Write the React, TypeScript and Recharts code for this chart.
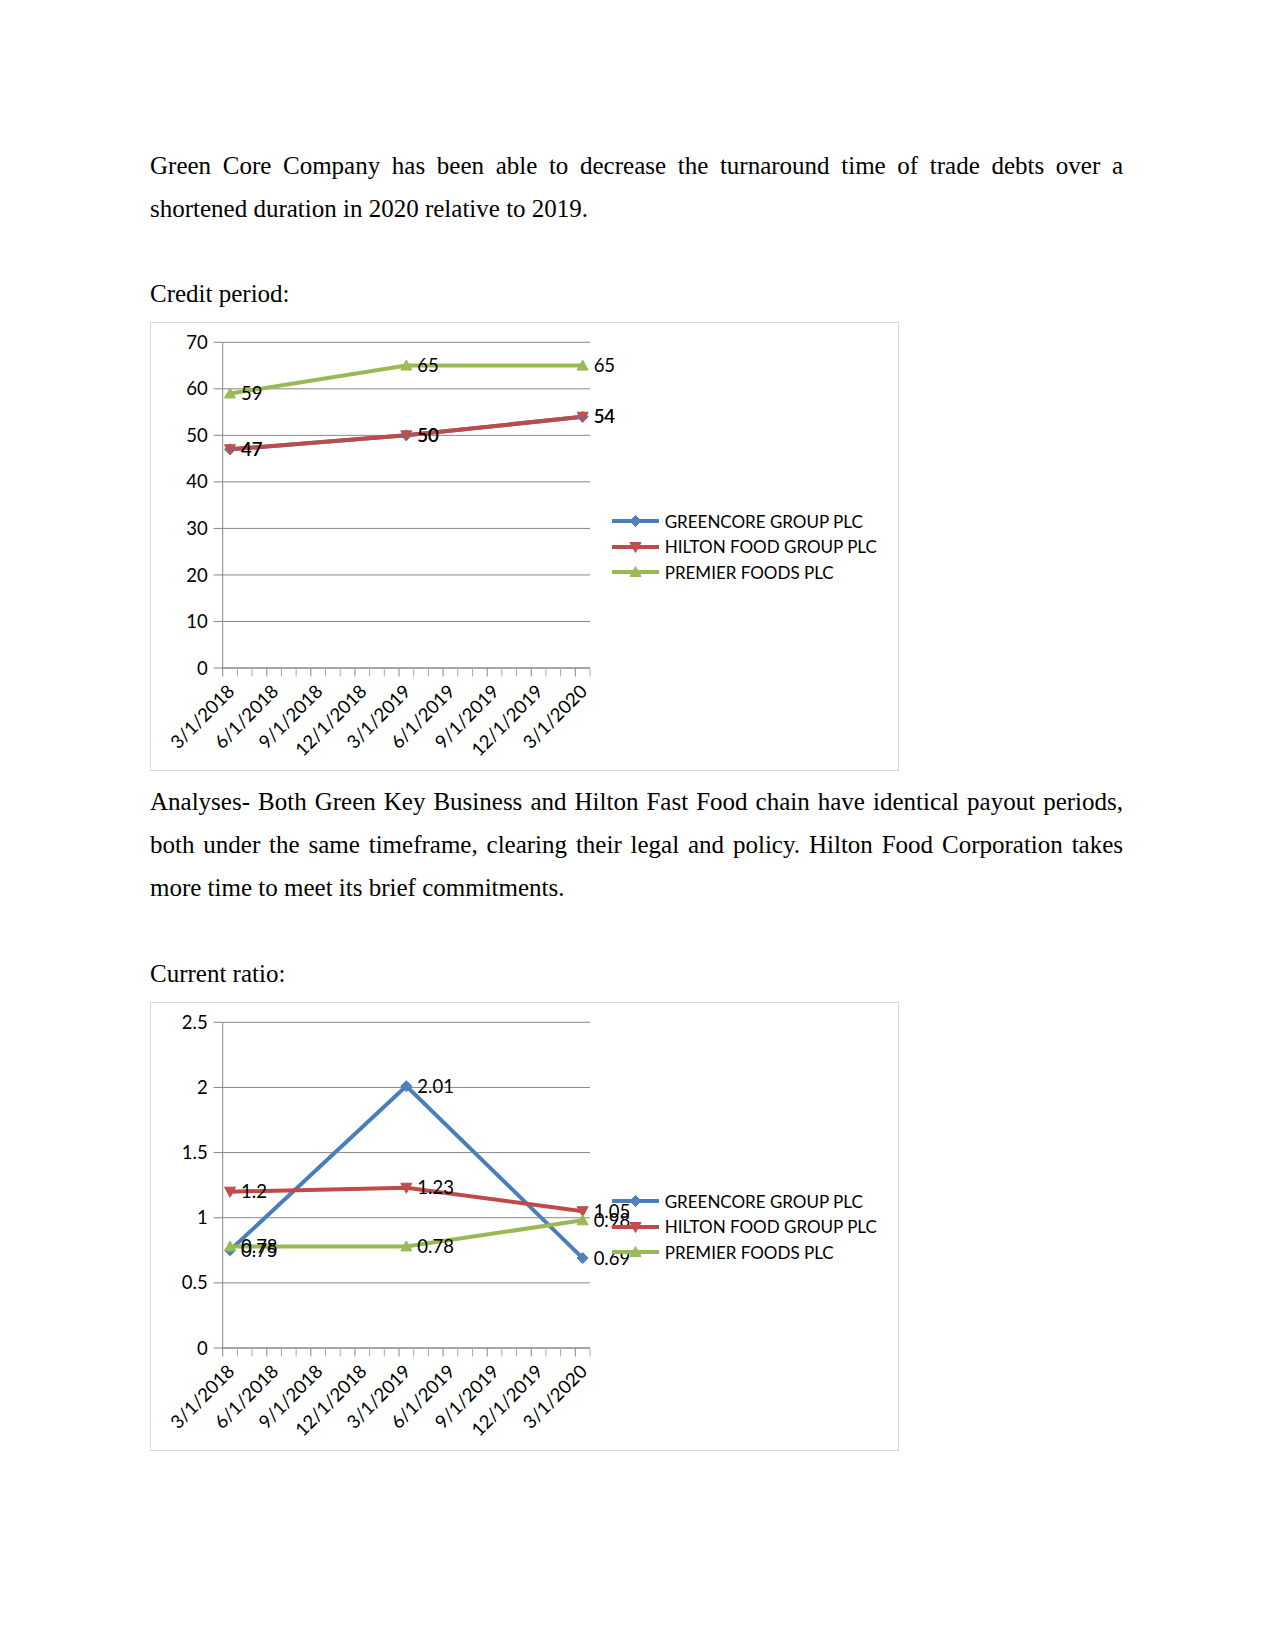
import React from 'react';
import { LineChart, Line, XAxis, YAxis, CartesianGrid, Legend, LabelList } from 'recharts';

// dates of the three observations and the date labels on the x axis
const pointDates = ['3/1/2018', '3/1/2019', '3/1/2020'];
const axisLabels = [
  '3/1/2018', '6/1/2018', '9/1/2018', '12/1/2018', '3/1/2019',
  '6/1/2019', '9/1/2019', '12/1/2019', '3/1/2020',
];
const seriesNames = ['GREENCORE GROUP PLC', 'HILTON FOOD GROUP PLC', 'PREMIER FOODS PLC'];

// Credit period (days)
const creditGreencore = [47, 50, 54];
const creditHilton = [47, 50, 54];
const creditPremier = [59, 65, 65];
const creditTicks = [0, 10, 20, 30, 40, 50, 60, 70];

// Current ratio
const ratioGreencore = [0.75, 2.01, 0.69];
const ratioHilton = [1.2, 1.23, 1.05];
const ratioPremier = [0.78, 0.78, 0.98];
const ratioTicks = [0, 0.5, 1, 1.5, 2, 2.5];

const FONT = 'Lato, "Noto Sans", sans-serif';
const FS = 17; // legend
const NUM_FS = 18.5; // numbers and dates
const GRID = '#878787';

const SERIES = [
  { key: 'g', stroke: '#4A7EBB', fill: '#4F81BD', shape: 'diamond' },
  { key: 'h', stroke: '#BE4B48', fill: '#C0504D', shape: 'down' },
  { key: 'p', stroke: '#98B954', fill: '#9BBB59', shape: 'up' },
];

// month index counted from the first axis label
const monthOf = (d: string) => {
  const [m, , y] = d.split('/').map(Number);
  const [m0, , y0] = axisLabels[0].split('/').map(Number);
  return (y - y0) * 12 + (m - m0);
};

const labelMonths = axisLabels.map(monthOf);
const lastMonth = labelMonths[labelMonths.length - 1];
const xDomain = [-0.5, lastMonth + 0.5];
const boundaryTicks = Array.from({ length: lastMonth + 2 }, (_, i) => i - 0.5);
const xTicks = [...boundaryTicks, ...labelMonths];

const buildRows = (g: number[], h: number[], p: number[]) =>
  pointDates.map((d, i) => ({ m: monthOf(d), g: g[i], h: h[i], p: p[i] }));

const creditRows = buildRows(creditGreencore, creditHilton, creditPremier);
const ratioRows = buildRows(ratioGreencore, ratioHilton, ratioPremier);

const markerPath = (shape: string, cx: number, cy: number) => {
  if (shape === 'diamond') return `M${cx},${cy - 5.5}L${cx + 5.5},${cy}L${cx},${cy + 5.5}L${cx - 5.5},${cy}Z`;
  if (shape === 'down') return `M${cx - 5.5},${cy - 4.5}L${cx + 5.5},${cy - 4.5}L${cx},${cy + 5.5}Z`;
  return `M${cx - 5.5},${cy + 4.5}L${cx + 5.5},${cy + 4.5}L${cx},${cy - 5.5}Z`;
};

const DateTick = (props: any) => {
  const { x, y, payload } = props;
  const v = payload.value;
  if (Number.isInteger(v)) {
    const label = axisLabels[labelMonths.indexOf(v)];
    const ax = x + 1;
    const ay = y + 20;
    return (
      <text
        x={ax}
        y={ay}
        dy="0.35em"
        textAnchor="end"
        transform={`rotate(-45 ${ax} ${ay})`}
        fontSize={NUM_FS}
        fontFamily={FONT}
        fill="#000"
      >
        {label}
      </text>
    );
  }
  const major = (v + 0.5) % 3 === 0;
  return <line x1={x} x2={x} y1={y} y2={y + 8.5} stroke={major ? '#868686' : '#a8a8a8'} strokeWidth={1} />;
};

const renderLabel = (props: any) => {
  const { x, y, value } = props;
  if (value == null) return null;
  return (
    <text x={x + 11} y={y} dy="0.35em" fontSize={NUM_FS} fontFamily={FONT} fill="#000">
      {value}
    </text>
  );
};

const makeDot = (shape: string, fill: string, stroke: string) => (props: any) => {
  const { cx, cy, index } = props;
  if (cx == null || cy == null) return <g key={`d-${index}`} />;
  return <path key={`d-${index}`} d={markerPath(shape, cx, cy)} fill={fill} stroke={stroke} strokeWidth={1} />;
};

const renderLegend = () => (
  <div style={{ paddingLeft: 21.7, fontFamily: FONT, fontSize: FS, color: '#000' }}>
    {SERIES.map((s, i) => (
      <div key={s.key} style={{ display: 'flex', alignItems: 'center', height: 25.5, whiteSpace: 'nowrap' }}>
        <svg width={47} height={14} style={{ display: 'block' }}>
          <line x1={0} x2={47} y1={7} y2={7} stroke={s.stroke} strokeWidth={4} />
          <path d={markerPath(s.shape, 23.5, 7)} fill={s.fill} stroke={s.stroke} />
        </svg>
        <span style={{ marginLeft: 6 }}>{seriesNames[i]}</span>
      </div>
    ))}
  </div>
);

function TrendChart({ rows, ticks }: { rows: any[]; ticks: number[] }) {
  return (
    <LineChart
      width={747}
      height={447}
      data={rows}
      margin={{ top: 19.3, right: 20, bottom: 0, left: 0 }}
      style={{ fontFamily: FONT }}
    >
      <CartesianGrid vertical={false} stroke={GRID} />
      <XAxis
        dataKey="m"
        type="number"
        domain={xDomain}
        ticks={xTicks}
        interval={0}
        tick={<DateTick />}
        tickLine={false}
        tickSize={0}
        tickMargin={0}
        height={102}
        axisLine={{ stroke: '#868686' }}
      />
      <YAxis
        type="number"
        domain={[ticks[0], ticks[ticks.length - 1]]}
        ticks={ticks}
        interval={0}
        width={71.7}
        tickSize={9}
        tickMargin={6}
        axisLine={{ stroke: '#868686' }}
        tickLine={{ stroke: '#868686' }}
        tick={{ fontSize: NUM_FS, fill: '#000', fontFamily: FONT }}
      />
      <Legend layout="vertical" align="right" verticalAlign="middle" wrapperStyle={{ width: 288 }} content={renderLegend} />
      {SERIES.map((s, i) => (
        <Line
          key={s.key}
          dataKey={s.key}
          name={seriesNames[i]}
          type="linear"
          stroke={s.stroke}
          strokeWidth={4}
          dot={makeDot(s.shape, s.fill, s.stroke)}
          activeDot={false}
          isAnimationActive={false}
        >
          <LabelList dataKey={s.key} content={renderLabel} />
        </Line>
      ))}
    </LineChart>
  );
}

const textLine = (top: number, text: string, justify: boolean) => (
  <div
    style={{
      position: 'absolute',
      left: 150,
      top,
      width: 973,
      lineHeight: '43px',
      textAlign: justify ? 'justify' : 'left',
      textAlignLast: justify ? 'justify' : 'left',
      whiteSpace: 'nowrap',
    }}
  >
    {text}
  </div>
);

const chartBox = (top: number, rows: any[], ticks: number[]) => (
  <div
    style={{
      position: 'absolute',
      left: 150,
      top,
      width: 749,
      height: 449,
      boxSizing: 'border-box',
      border: '1px solid #d9d9d9',
      background: '#fff',
    }}
  >
    <TrendChart rows={rows} ticks={ticks} />
  </div>
);

export default function App() {
  return (
    <div
      style={{
        position: 'absolute',
        left: 0,
        top: 0,
        width: 1275,
        height: 1651,
        background: '#fff',
        color: '#000',
        fontFamily: '"Liberation Serif", "Times New Roman", serif',
        fontSize: 25,
      }}
    >
      {textLine(143.5, 'Green Core Company has been able to decrease the turnaround time of trade debts over a', true)}
      {textLine(186.5, 'shortened duration in 2020 relative to 2019.', false)}
      {textLine(272, 'Credit period:', false)}
      {chartBox(322, creditRows, creditTicks)}
      {textLine(779.5, 'Analyses- Both Green Key Business and Hilton Fast Food chain have identical payout periods,', true)}
      {textLine(822.5, 'both under the same timeframe, clearing their legal and policy. Hilton Food Corporation takes', true)}
      {textLine(866, 'more time to meet its brief commitments.', false)}
      {textLine(952, 'Current ratio:', false)}
      {chartBox(1002, ratioRows, ratioTicks)}
    </div>
  );
}
